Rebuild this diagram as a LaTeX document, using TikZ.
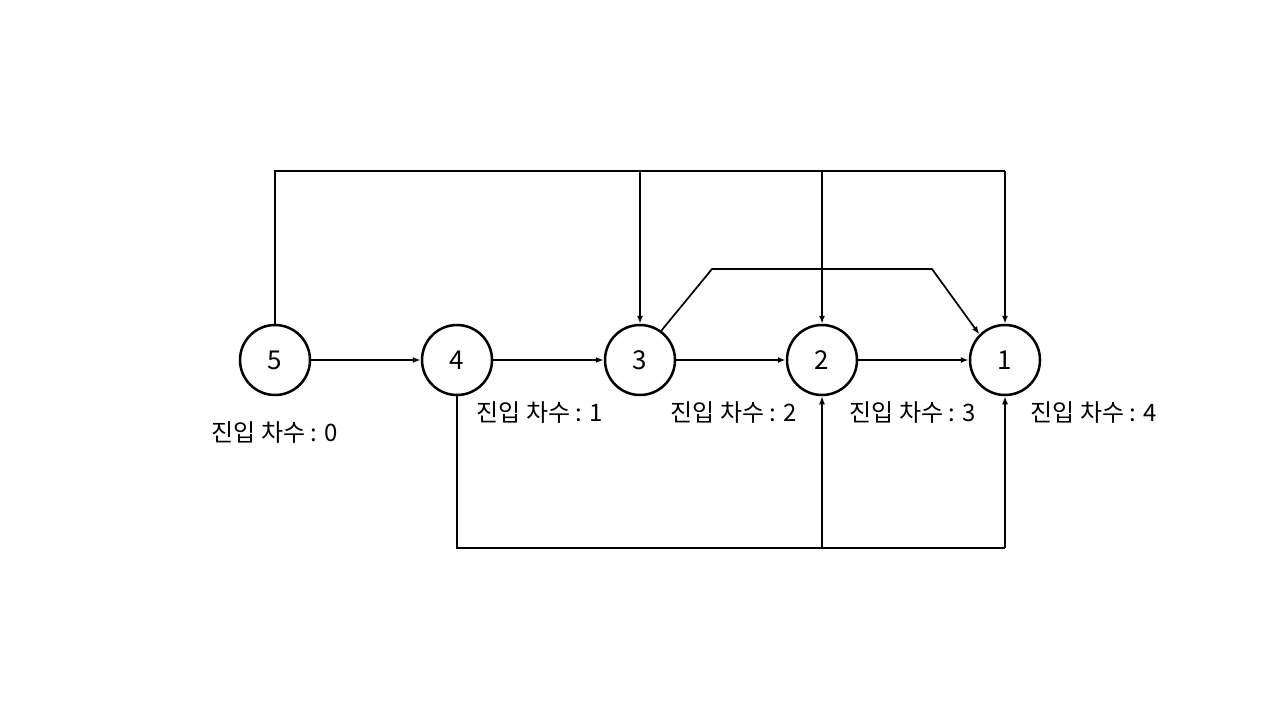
\documentclass[tikz,border=0pt]{standalone}
\usepackage{fontspec}
\setmainfont{Noto Sans CJK KR}
\usetikzlibrary{arrows.meta}
\begin{document}
\begin{tikzpicture}[x=1pt,y=-1pt,
  vtx/.style={circle,draw,line width=2.5pt,minimum size=70pt,inner sep=0pt,font=\fontsize{26}{28}\selectfont},
  edge/.style={line width=1.7pt,-{Latex[length=8pt,width=6pt]}},
  plain/.style={line width=1.7pt},
  lbl/.style={font=\fontsize{24}{26}\selectfont}]
\useasboundingbox (0,0) rectangle (1280,720);
\node[vtx] (n5) at (275,360) {5};
\node[vtx] (n4) at (457,360) {4};
\node[vtx] (n3) at (640,360) {3};
\node[vtx] (n2) at (822,360) {2};
\node[vtx] (n1) at (1005,360) {1};
\node[lbl] (l0) at (275,433) {진입 차수 : 0};
\node[lbl] (l1) at (540,413) {진입 차수 : 1};
\node[lbl] (l2) at (734,413) {진입 차수 : 2};
\node[lbl] (l3) at (913,413) {진입 차수 : 3};
\node[lbl] (l4) at (1094,413) {진입 차수 : 4};
\coordinate (t5) at (275,171);
\coordinate (t3) at (640,171);
\coordinate (t2) at (822,171);
\coordinate (t1) at (1005,171);
\coordinate (ua) at (712,269);
\coordinate (ub) at (932,269);
\coordinate (b4) at (457,548);
\coordinate (b2) at (822,548);
\coordinate (b1) at (1005,548);
\draw[edge] (n5) -- (n4);
\draw[edge] (n4) -- (n3);
\draw[edge] (n3) -- (n2);
\draw[edge] (n2) -- (n1);
\draw[plain] (n5.north) -- (t5) -- (t1);
\draw[edge] (t3) -- (n3.north);
\draw[edge] (t2) -- (n2.north);
\draw[edge] (t1) -- (n1.north);
\draw[edge] (n3.54) -- (ua) -- (ub) -- (n1.135);
\draw[plain] (n4.south) -- (b4) -- (b1);
\draw[edge] (b2) -- (n2.south);
\draw[edge] (b1) -- (n1.south);
\end{tikzpicture}
\end{document}
